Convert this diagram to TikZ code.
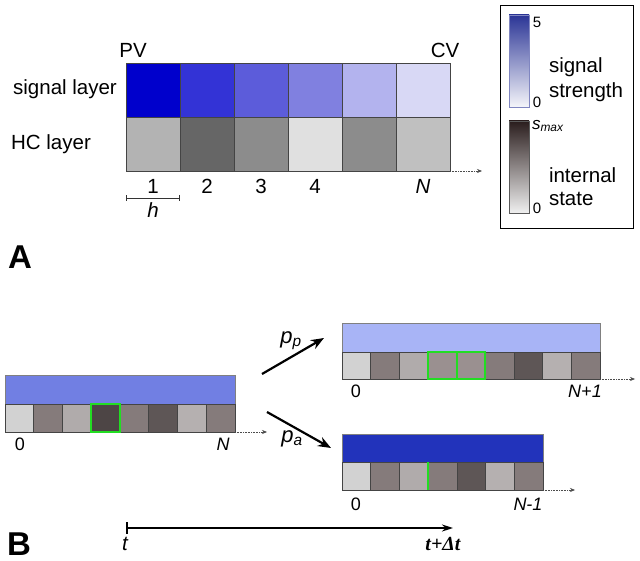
\documentclass[tikz,border=0pt]{standalone}
\usepackage{fontspec}
\setmainfont{Liberation Sans}
\newfontfamily\serifit{Liberation Serif}
\usetikzlibrary{arrows.meta}
\definecolor{s1}{HTML}{0000CC}
\definecolor{s2}{HTML}{3333D6}
\definecolor{s3}{HTML}{5C5CDA}
\definecolor{s4}{HTML}{8080E0}
\definecolor{s5}{HTML}{B3B3EE}
\definecolor{s6}{HTML}{D8D8F5}
\definecolor{h1}{HTML}{B3B3B3}
\definecolor{h2}{HTML}{666666}
\definecolor{h3}{HTML}{8C8C8C}
\definecolor{h4}{HTML}{E0E0E0}
\definecolor{h5}{HTML}{8C8C8C}
\definecolor{h6}{HTML}{C0C0C0}
\definecolor{gA}{HTML}{D2D2D2}
\definecolor{gB}{HTML}{857B7B}
\definecolor{gC}{HTML}{B0ABAB}
\definecolor{gD}{HTML}{4D4545}
\definecolor{gE}{HTML}{5E5656}
\definecolor{gF}{HTML}{B5B0B0}
\definecolor{gG}{HTML}{9A9090}
\definecolor{bL}{HTML}{717FE3}
\definecolor{bT}{HTML}{A8B4F6}
\definecolor{bB}{HTML}{2233BB}
\definecolor{legblue}{HTML}{2B3596}
\definecolor{legdark}{HTML}{2A1D1D}
\definecolor{hgreen}{HTML}{22DD22}
\definecolor{gridc}{HTML}{444444}
\begin{document}
\begin{tikzpicture}[x=1pt,y=-1pt,
  every node/.style={inner sep=0pt, outer sep=0pt},
  bigcell/.style={draw=gridc, line width=0.6pt, minimum width=54pt, minimum height=54pt},
  smallcell/.style={draw=gridc, line width=0.6pt, minimum width=28.7pt, minimum height=28pt},
  bluebar/.style={draw=gray, line width=0.5pt, minimum height=29pt},
  lbl/.style={font=\fontsize{20.5}{24}\selectfont},
  slbl/.style={font=\fontsize{18}{22}\selectfont},
  panel/.style={font=\fontsize{33}{36}\selectfont\bfseries, text depth=0pt},
  dotarrow/.style={densely dotted, gray!60!black, line width=0.6pt, -{Stealth[length=5pt,width=4pt]}},
  parrow/.style={line width=2.2pt, -{Stealth[length=13pt,width=10pt]}},
  hl/.style={draw=hgreen, line width=1.8pt}
]
\useasboundingbox (0,0) rectangle (640,561);

% ---------- Panel A ----------
\foreach \col [count=\i from 0] in {s1,s2,s3,s4,s5,s6}
  \node[bigcell, fill=\col] (sig\i) at (153+54*\i, 90) {};
\foreach \col [count=\i from 0] in {h1,h2,h3,h4,h5,h6}
  \node[bigcell, fill=\col] (hc\i) at (153+54*\i, 144) {};

\node[lbl] (pv) at (133,50) {PV};
\node[lbl] (cv) at (445,50) {CV};
\node[lbl] (siglay) at (65,89) {signal layer};
\node[lbl] (hclay) at (51,144) {HC layer};

\node[lbl] (n1) at (153,186) {1};
\node[lbl] (n2) at (207,186) {2};
\node[lbl] (n3) at (261,186) {3};
\node[lbl] (n4) at (315,186) {4};
\node[lbl] (nN) at (423,186) {\itshape N};

\coordinate (hL) at (126,198);
\coordinate (hR) at (180,198);
\draw[gray!40!black, line width=0.6pt, {Bar[width=6pt]}-{Bar[width=6pt]}] (hL) -- (hR);
\node[lbl] (hlab) at (153,210) {\itshape h};

\coordinate (dA) at (482,171);
\draw[dotarrow] (hc5.south east) -- (dA);

% legend
\node[draw, line width=0.8pt, minimum width=133pt, minimum height=223pt] (legend) at (566.5,116.5) {};
\node[draw=legblue!60, line width=0.6pt, minimum width=20pt, minimum height=92pt,
      top color=legblue, bottom color=legblue!5] (bar1) at (519,61) {};
\node[font=\fontsize{15}{17}\selectfont] (five) at (537,22) {5};
\node[font=\fontsize{15}{17}\selectfont] (zero1) at (537,102) {0};
\node[lbl, anchor=west] (sigt) at (549,67) {signal};
\node[lbl, anchor=west] (strt) at (549,92) {strength};

\node[draw=gray!70!black, line width=0.6pt, minimum width=20pt, minimum height=92pt,
      top color=legdark, bottom color=white!94!black] (bar2) at (519,167) {};
\node[font=\fontsize{17}{19}\selectfont, anchor=west] (smax) at (532,126) {\itshape s\textsubscript{max}};
\node[font=\fontsize{15}{17}\selectfont] (zero2) at (537,208) {0};
\node[lbl, anchor=west] (intl) at (549,175) {internal};
\node[lbl, anchor=west] (stat) at (549,199) {state};

\node[panel] (A) at (20,257) {A};

% ---------- Panel B ----------
% left strip
\node[bluebar, fill=bL, minimum width=230pt] (lbar) at (120,389.5) {};
\foreach \col [count=\i from 0] in {gA,gB,gC,gD,gB,gE,gF,gB}
  \node[smallcell, fill=\col, minimum width=28.75pt] (lc\i) at (5+28.75*\i+14.375, 418) {};
\draw[hl] (lc3.north west) rectangle (lc3.south east);
\node[slbl] (l0) at (20,444) {0};
\node[slbl] (lN) at (223,444) {\itshape N};
\coordinate (dL) at (267,432);
\draw[dotarrow] (lc7.south east) -- (dL);

% top right strip
\node[bluebar, fill=bT, minimum width=258pt] (tbar) at (471,337.5) {};
\foreach \col [count=\i from 0] in {gA,gB,gC,gG,gG,gB,gE,gF,gB}
  \node[smallcell, fill=\col, minimum height=27pt] (tc\i) at (342+28.667*\i+14.333, 365.5) {};
\draw[hl] (tc3.north west) rectangle (tc3.south east);
\draw[hl] (tc4.north west) rectangle (tc4.south east);
\node[slbl] (t0) at (356,391) {0};
\node[slbl] (tN) at (585,391) {\itshape N+1};
\coordinate (dT) at (635,379);
\draw[dotarrow] (tc8.south east) -- (dT);

% bottom right strip
\node[bluebar, fill=bB, minimum width=201pt, minimum height=28pt] (bbar) at (442.5,448) {};
\foreach \col [count=\i from 0] in {gA,gB,gC,gB,gE,gF,gB}
  \node[smallcell, fill=\col, minimum width=28.714pt] (bc\i) at (342+28.714*\i+14.357, 476) {};
\draw[draw=hgreen, line width=1.8pt] (bc2.north east) -- (bc2.south east);
\node[slbl] (b0) at (356,504) {0};
\node[slbl] (bN) at (528,504) {\itshape N-1};
\coordinate (dB) at (575,490);
\draw[dotarrow] (bc6.south east) -- (dB);

% transition arrows
\coordinate (ppS) at (262,374);
\coordinate (ppE) at (324,338);
\coordinate (paS) at (267,412);
\coordinate (paE) at (331,448);
\draw[parrow] (ppS) -- (ppE);
\draw[parrow] (paS) -- (paE);
\node[font=\fontsize{22}{24}\selectfont] (pp) at (291,341) {\itshape p\textsubscript{p}};
\node[font=\fontsize{22}{24}\selectfont] (pa) at (292,439) {\itshape p\textsubscript{a}};

% time axis
\coordinate (tS) at (127,528);
\coordinate (tE) at (453,528);
\draw[line width=1.8pt, -{Stealth[length=11pt,width=7pt]}] (tS) -- (tE);
\coordinate (tickT) at (127,522);
\coordinate (tickB) at (127,534);
\draw[line width=1.2pt] (tickT) -- (tickB);
\node[lbl] (tlab) at (125,544) {\itshape t};
\node[font=\fontsize{20}{24}\selectfont\serifit\bfseries\itshape] (tdt) at (443,544) {t+Δt};

\node[panel] (B) at (19,544) {B};
\end{tikzpicture}
\end{document}
